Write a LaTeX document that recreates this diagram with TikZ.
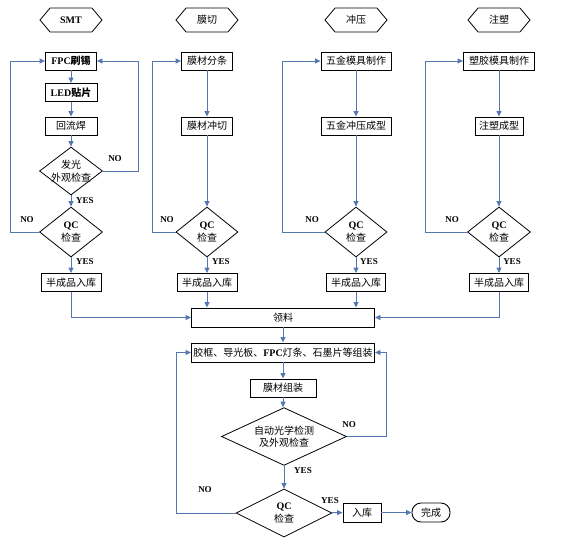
\documentclass[tikz,border=0pt]{standalone}
\usepackage{fontspec}
\setmainfont{Liberation Serif}
\newfontfamily\cjk{Noto Sans CJK SC}
\usetikzlibrary{shapes.geometric,shapes.symbols,arrows.meta}
\definecolor{flowblue}{RGB}{84,119,178}
\newcommand\latb[1]{{\rmfamily\bfseries #1}}
\begin{document}
\begin{tikzpicture}[x=1pt,y=-1pt,
  every node/.style={font=\cjk\fontsize{10}{12.5}\selectfont, text=black},
  box/.style={draw=black, line width=0.9pt, minimum height=18pt, inner sep=1pt},
  dia/.style={diamond, draw=black, line width=0.8pt, inner sep=-6pt, align=center},
  hexa/.style={signal, signal to=west and east, signal pointer angle=100, draw=black, line width=0.8pt, minimum width=62pt, minimum height=24pt, inner sep=1pt},
  conn/.style={draw=flowblue, line width=0.9pt, -{Triangle[length=5.5pt,width=5pt]}},
  lbl/.style={font=\rmfamily\bfseries\fontsize{9}{10}\selectfont, inner sep=0pt}]
\useasboundingbox (0,0) rectangle (568,544);

% column 1: SMT
\node[hexa] (h1) at (71,20) {\latb{SMT}};
\node[box, minimum width=51pt] (fpc) at (71,61) {\latb{FPC}\bfseries 刷锡};
\node[box, minimum width=52pt] (led) at (71,92.5) {\latb{LED}\bfseries 贴片};
\node[box, minimum width=52pt] (hlh) at (71,126) {回流焊};
\node[dia, minimum width=63pt, minimum height=48pt] (d1) at (71,171) {发光\\外观检查};
\node[dia, minimum width=63pt, minimum height=50pt] (q1) at (71,232) {\latb{QC}\\检查};
\node[box, minimum width=60pt] (s1) at (71,282.5) {半成品入库};

% column 2
\node[hexa] (h2) at (207,20) {膜切};
\node[box, minimum width=51pt] (mf) at (207,61) {膜材分条};
\node[box, minimum width=51pt] (mc) at (207,126) {膜材冲切};
\node[dia, minimum width=62pt, minimum height=50pt] (q2) at (207,232) {\latb{QC}\\检查};
\node[box, minimum width=60pt] (s2) at (207,282.5) {半成品入库};

% column 3
\node[hexa] (h3) at (356,20) {冲压};
\node[box, minimum width=70pt] (wj) at (356,61) {五金模具制作};
\node[box, minimum width=70pt] (wc3) at (356,126) {五金冲压成型};
\node[dia, minimum width=62pt, minimum height=50pt] (q3) at (356,232) {\latb{QC}\\检查};
\node[box, minimum width=59pt] (s3) at (356,282.5) {半成品入库};

% column 4
\node[hexa] (h4) at (499,20) {注塑};
\node[box, minimum width=71pt] (sj) at (499,61) {塑胶模具制作};
\node[box, minimum width=48pt] (zs) at (499,126) {注塑成型};
\node[dia, minimum width=63pt, minimum height=50pt] (q4) at (499,232) {\latb{QC}\\检查};
\node[box, minimum width=59pt] (s4) at (499,282.5) {半成品入库};

% bottom
\node[box, minimum width=183pt, minimum height=19pt] (ll) at (283,317.5) {领料};
\node[box, minimum width=183pt, minimum height=19pt] (jk) at (283,352.5) {胶框、导光板、\latb{FPC}灯条、石墨片等组装};
\node[box, minimum width=66pt] (mz) at (283,388) {膜材组装};
\node[dia, minimum width=125pt, minimum height=49pt] (aoi) at (284,436.5) {自动光学检测\\及外观检查};
\node[dia, minimum width=96pt, minimum height=48pt] (qb) at (284,513) {\latb{QC}\\检查};
\node[box, minimum width=38pt, minimum height=19pt] (rk) at (362,512.5) {入库};
\node[box, rounded corners=9pt, minimum width=38pt, minimum height=19pt] (wc) at (431,512.5) {完成};

% connectors col 1
\draw[conn] (fpc) -- (led);
\draw[conn] (led) -- (hlh);
\draw[conn] (hlh) -- (d1);
\draw[conn] (d1) -- (q1);
\draw[conn] (q1) -- (s1);
\draw[conn] (q1.west) -- ++(-29,0) |- (fpc.west);
\draw[conn] (d1.east) -- ++(35.5,0) |- (fpc.east);
\draw[conn] (s1.south) |- (ll.west);

% col 2
\draw[conn] (mf) -- (mc);
\draw[conn] (mc) -- (q2);
\draw[conn] (q2) -- (s2);
\draw[conn] (q2.west) -- ++(-23.5,0) |- (mf.west);
\draw[conn] (s2.south) -- (s2.south |- ll.north);

% col 3
\draw[conn] (wj) -- (wc3);
\draw[conn] (wc3) -- (q3);
\draw[conn] (q3) -- (s3);
\draw[conn] (q3.west) -- ++(-42,0) |- (wj.west);
\draw[conn] (s3.south) -- (s3.south |- ll.north);

% col 4
\draw[conn] (sj) -- (zs);
\draw[conn] (zs) -- (q4);
\draw[conn] (q4) -- (s4);
\draw[conn] (q4.west) -- ++(-41.5,0) |- (sj.west);
\draw[conn] (s4.south) |- (ll.east);

% bottom
\draw[conn] (ll) -- (jk);
\draw[conn] (jk) -- (mz);
\draw[conn] (mz.south) -- (mz.south |- aoi.north);
\draw[conn] (aoi) -- (qb);
\draw[conn] (qb) -- (rk);
\draw[conn] (rk) -- (wc);
\draw[conn] (aoi.east) -- ++(40,0) |- (jk.east);
\draw[conn] (qb.west) -- ++(-59,0) |- (jk.west);

% labels
\node[lbl] (n1) at (115,159) {NO};
\node[lbl] (n2) at (27,220) {NO};
\node[lbl] (y1) at (85,201) {YES};
\node[lbl] (y2) at (85,262) {YES};
\node[lbl] (n3) at (167,220) {NO};
\node[lbl] (y3) at (221,262) {YES};
\node[lbl] (n4) at (312,220) {NO};
\node[lbl] (y4) at (369,262) {YES};
\node[lbl] (n5) at (452,220) {NO};
\node[lbl] (y5) at (512,262) {YES};
\node[lbl] (n6) at (349,425) {NO};
\node[lbl] (n7) at (205,490) {NO};
\node[lbl] (y6) at (303,471) {YES};
\node[lbl] (y7) at (330,501) {YES};
\end{tikzpicture}
\end{document}
